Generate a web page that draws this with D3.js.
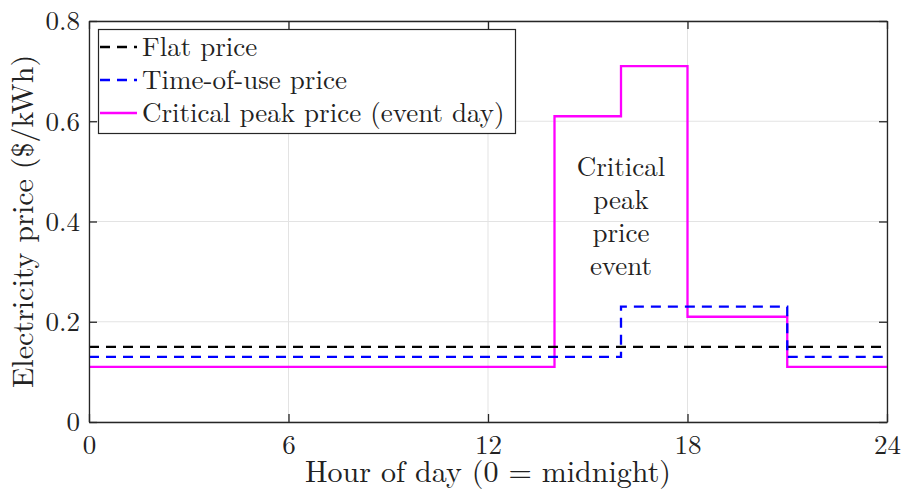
<!DOCTYPE html>
<html><head><meta charset="utf-8">
<script src="https://cdn.jsdelivr.net/npm/d3@7"></script>
<style>body{margin:0;background:#fff}svg{display:block}text{font-family:"Latin Modern Roman","CMU Serif","Liberation Serif","DejaVu Serif",serif;fill:#222}</style>
</head><body><svg id="c" width="904" height="496"></svg>
<script>
const xTicks = [0, 6, 12, 18, 24];
const yTicks = [0, 0.2, 0.4, 0.6, 0.8];
const yTickLabels = ["0", "0.2", "0.4", "0.6", "0.8"];
const flatHours = [0, 24];
const flatPrice = [0.15, 0.15];
const touHours = [0, 16, 21, 24];
const touPrice = [0.13, 0.23, 0.13, 0.13];
const cppHours = [0, 14, 16, 18, 21, 24];
const cppPrice = [0.11, 0.61, 0.71, 0.21, 0.11, 0.11];
const seriesNames = ["Flat price", "Time-of-use price", "Critical peak price (event day)"];
const annotation = ["Critical", "peak", "price", "event"];

const FONT = '"Latin Modern Roman","CMU Serif","Liberation Serif","DejaVu Serif",serif';
const svg = d3.select("#c");
const m = {l:89, r:887, t:21, b:422};
const x = d3.scaleLinear().domain([0,24]).range([m.l, m.r]);
const y = d3.scaleLinear().domain([0,0.8]).range([m.b, m.t]);

// grid
const g = svg.append("g");
g.selectAll(".vg").data(xTicks).join("line")
  .attr("x1", d=>x(d)).attr("x2", d=>x(d)).attr("y1", m.t).attr("y2", m.b)
  .attr("stroke", "#e3e3e3").attr("stroke-width", 1);
g.selectAll(".hg").data(yTicks).join("line")
  .attr("y1", d=>y(d)).attr("y2", d=>y(d)).attr("x1", m.l).attr("x2", m.r)
  .attr("stroke", "#e3e3e3").attr("stroke-width", 1);

function steps(hs, ps){ return hs.map((h,i)=>({h, p:ps[i]})); }
const line = d3.line().x(d=>x(d.h)).y(d=>y(d.p)).curve(d3.curveStepAfter);

const series = [
  {data: steps(cppHours, cppPrice), color:"#ff00ff", dash:null},
  {data: steps(flatHours, flatPrice), color:"#000000", dash:"10,7"},
  {data: steps(touHours, touPrice), color:"#0000ff", dash:"10,7"},
];
series.forEach(s=>{
  svg.append("path").attr("d", line(s.data)).attr("fill","none")
    .attr("stroke", s.color).attr("stroke-width", 2.3)
    .attr("stroke-dasharray", s.dash);
});

// axes with inner ticks on all sides
const ax = svg.append("g").attr("transform", `translate(0,${m.b})`)
  .call(d3.axisBottom(x).tickValues(xTicks).tickSizeInner(-8).tickSizeOuter(0).tickPadding(13));
const axT = svg.append("g").attr("transform", `translate(0,${m.t})`)
  .call(d3.axisTop(x).tickValues(xTicks).tickSizeInner(-8).tickSizeOuter(0).tickFormat(""));
const ay = svg.append("g").attr("transform", `translate(${m.l},0)`)
  .call(d3.axisLeft(y).tickValues(yTicks).tickSizeInner(-8).tickSizeOuter(0).tickPadding(9)
    .tickFormat((d,i)=>yTickLabels[i]));
const ayR = svg.append("g").attr("transform", `translate(${m.r},0)`)
  .call(d3.axisRight(y).tickValues(yTicks).tickSizeInner(-8).tickSizeOuter(0).tickFormat(""));
[ax, axT, ay, ayR].forEach(a=>{
  a.select(".domain").attr("stroke", "#262626").attr("stroke-width", 1.3);
  a.selectAll(".tick line").attr("stroke", "#262626").attr("stroke-width", 1.3);
  a.selectAll("text").attr("font-size", 27).attr("fill", "#262626").style("font-family", FONT);
});
ay.selectAll("text").attr("dy", "0.33em");

// axis labels
svg.append("text").attr("x", (m.l+m.r)/2).attr("y", 482).attr("text-anchor","middle")
  .attr("font-size", 30).text("Hour of day (0 = midnight)");
svg.append("text").attr("transform", `translate(33,${(m.t+m.b)/2}) rotate(-90)`)
  .attr("text-anchor","middle").attr("font-size", 30).text("Electricity price ($/kWh)");

// annotation
const ann = svg.append("text").attr("text-anchor","middle").attr("font-size", 27);
annotation.forEach((t,i)=>{
  ann.append("tspan").attr("x", x(16)).attr("y", 176 + i*33).text(t);
});

// legend
const lg = svg.append("g");
lg.append("rect").attr("x", 98.5).attr("y", 29.5).attr("width", 417).attr("height", 104)
  .attr("fill","#fff").attr("stroke","#262626").attr("stroke-width",1.2);
const legendColors = ["#000000", "#0000ff", "#ff00ff"];
const legendDash = ["10,7", "10,7", null];
seriesNames.forEach((n,i)=>{
  const yy = 47 + i*33;
  lg.append("line").attr("x1", 100).attr("x2", 137).attr("y1", yy).attr("y2", yy)
    .attr("stroke", legendColors[i]).attr("stroke-width", 2.3).attr("stroke-dasharray", legendDash[i]);
  lg.append("text").attr("x", 142).attr("y", yy).attr("dy","0.33em").attr("font-size", 27).text(n);
});
</script></body></html>
